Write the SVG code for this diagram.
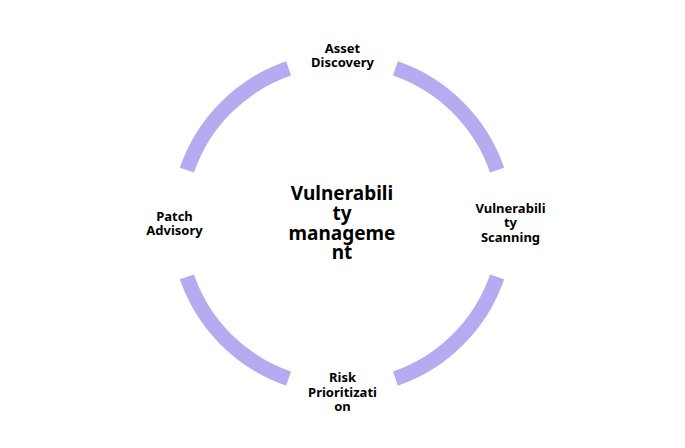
<svg xmlns="http://www.w3.org/2000/svg" width="685" height="448" viewBox="0 0 685 448">
<style>
.arc{fill:none;stroke:#b4abf0;stroke-width:15;stroke-linecap:butt}
.lbl{font-family:"Noto Sans","Open Sans",sans-serif;font-weight:bold;font-size:13px;fill:#000;text-anchor:middle}
.ctr{font-family:"Noto Sans","Open Sans",sans-serif;font-weight:bold;font-size:19px;fill:#000;text-anchor:middle}
</style>
<rect width="685" height="448" fill="#fff"/>
<g id="connectors">
<path class="arc" d="M186.9,170.1 A164,164 0 0 1 288.6,68.4"/>
<path class="arc" d="M395.4,68.4 A164,164 0 0 1 497.1,170.1"/>
<path class="arc" d="M497.1,276.9 A164,164 0 0 1 395.4,378.6"/>
<path class="arc" d="M288.6,378.6 A164,164 0 0 1 186.9,276.9"/>
</g>
<g id="center">
<text class="ctr" x="342" y="200">Vulnerabili</text>
<text class="ctr" x="342" y="220">ty</text>
<text class="ctr" x="342" y="240">manageme</text>
<text class="ctr" x="342" y="259">nt</text>
</g>
<g id="asset-discovery">
<text class="lbl" x="342.5" y="53">Asset</text>
<text class="lbl" x="342.5" y="67">Discovery</text>
</g>
<g id="vulnerability-scanning">
<text class="lbl" x="510.5" y="213">Vulnerabili</text>
<text class="lbl" x="510.5" y="227">ty</text>
<text class="lbl" x="510.5" y="242">Scanning</text>
</g>
<g id="risk-prioritization">
<text class="lbl" x="342.5" y="382">Risk</text>
<text class="lbl" x="342.5" y="397">Prioritizati</text>
<text class="lbl" x="342.5" y="411">on</text>
</g>
<g id="patch-advisory">
<text class="lbl" x="174.5" y="221">Patch</text>
<text class="lbl" x="174.5" y="235">Advisory</text>
</g>
</svg>
